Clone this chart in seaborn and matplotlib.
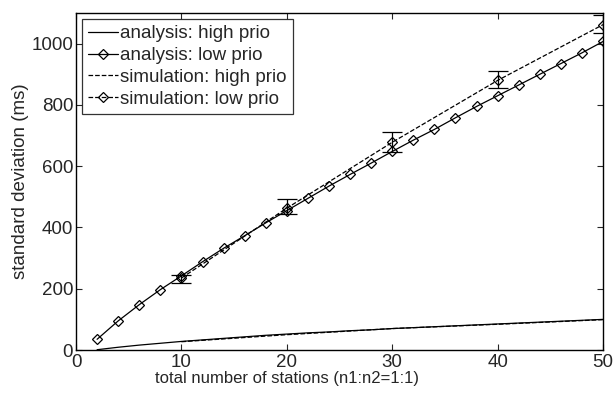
import numpy as np
import pandas as pd
import matplotlib
matplotlib.use("Agg")
import matplotlib.pyplot as plt
import seaborn as sns

# ---- data ----
x_analysis = [2, 4, 6, 8, 10, 12, 14, 16, 18, 20, 22, 24, 26, 28, 30,
              32, 34, 36, 38, 40, 42, 44, 46, 48, 50]
analysis_high = [1, 9, 16, 22, 28, 33, 38, 43, 48, 52, 56, 59, 63, 66, 70,
                 73, 76, 79, 82, 85, 88, 91, 94, 97, 100]
analysis_low = [35, 95, 148, 197, 242, 288, 332, 373, 415, 455, 495, 535, 573, 610, 648,
                685, 720, 758, 795, 830, 865, 900, 935, 970, 1007]

x_sim = [10, 20, 30, 40, 50]
sim_high = [27, 50, 70, 84, 99]
sim_low = [235, 463, 678, 880, 1062]
sim_low_err_lo = [218, 443, 646, 854, 1034]
sim_low_err_hi = [246, 492, 710, 910, 1092]

xlabel = "total number of stations (n1:n2=1:1)"
ylabel = "standard deviation (ms)"
legend_labels = ["analysis: high prio", "analysis: low prio",
                 "simulation: high prio", "simulation: low prio"]

# ---- style ----
sns.set_style("ticks")
plt.rcParams['font.family'] = ['Liberation Sans', 'DejaVu Sans']
plt.rcParams['xtick.direction'] = 'in'
plt.rcParams['ytick.direction'] = 'in'

fig = plt.figure(figsize=(6.16, 3.95), dpi=100)
ax = fig.add_axes([0.1234, 0.1139, 0.8556, 0.8532])

df_a = pd.DataFrame({"x": x_analysis, "high": analysis_high, "low": analysis_low})
df_s = pd.DataFrame({"x": x_sim, "high": sim_high, "low": sim_low})

lw = 0.9
mk = dict(marker="D", markersize=5.5, markerfacecolor="none",
          markeredgecolor="black", markeredgewidth=0.9)
sns.lineplot(data=df_a, x="x", y="high", ax=ax, color="black", lw=lw,
             label=legend_labels[0])
sns.lineplot(data=df_a, x="x", y="low", ax=ax, color="black", lw=lw,
             label=legend_labels[1], **mk)
sns.lineplot(data=df_s, x="x", y="high", ax=ax, color="black", lw=lw,
             linestyle="--", dashes=(4, 3), label=legend_labels[2])
sns.lineplot(data=df_s, x="x", y="low", ax=ax, color="black", lw=lw,
             linestyle="--", dashes=(4, 3), label=legend_labels[3], **mk)

yerr = [np.array(sim_low) - np.array(sim_low_err_lo),
        np.array(sim_low_err_hi) - np.array(sim_low)]
ax.errorbar(x_sim, sim_low, yerr=yerr, fmt="none", ecolor="black",
            elinewidth=0.9, capsize=7, capthick=0.9)

ax.set_xlim(0, 50)
ax.set_ylim(0, 1100)
ax.set_xticks([0, 10, 20, 30, 40, 50])
ax.set_yticks([0, 200, 400, 600, 800, 1000])
ax.tick_params(axis="both", labelsize=13.5, length=4, width=0.8,
               top=True, right=True)
ax.tick_params(axis="x", pad=3)
ax.tick_params(axis="y", pad=2)
for s in ax.spines.values():
    s.set_visible(True)
    s.set_linewidth(1.0)
    s.set_color("black")
ax.set_xlabel(xlabel, fontsize=12)
ax.xaxis.set_label_coords(0.40, -0.063)
ax.set_ylabel(ylabel, fontsize=13.5, labelpad=2)

leg = ax.legend(loc="upper left", fontsize=13.5, frameon=True, fancybox=False,
                edgecolor="black", handlelength=1.6, handletextpad=0.1,
                borderpad=0.35, labelspacing=0.25, borderaxespad=0.3)
leg.get_frame().set_linewidth(0.9)

fig.savefig("out.png", dpi=100)
